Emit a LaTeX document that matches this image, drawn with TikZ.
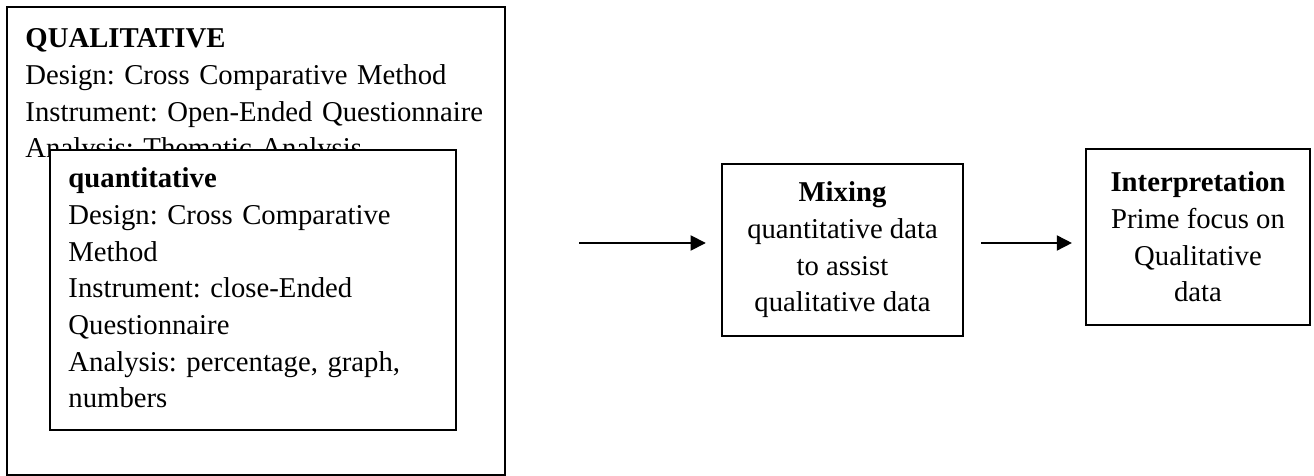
\documentclass[tikz,border=0pt]{standalone}
\usepackage{fontspec}
\setmainfont{Liberation Serif}
\frenchspacing
\usetikzlibrary{arrows.meta,positioning,fit}

\begin{document}
\begin{tikzpicture}[
    x=0.418pt, y=-0.418pt,
    box/.style={rectangle, draw=black, line width=1pt, inner sep=0pt},
    body/.style={font=\fontsize{12}{15.3}\selectfont, inner sep=0pt},
    arrow/.style={-{Triangle[length=6.3pt, width=6.3pt]}, line width=0.7pt}
]
\useasboundingbox (0,0) rectangle (1314,476);

% the two nested method boxes
\node[box, fit={(7,7) (505,475)}] (qual) {};
\node[body, text width=200pt, align=left, anchor=base west] (qualtext) at (25,48)
    {\textbf{QUALITATIVE}\\
     Design: Cross Comparative Method\\
     Instrument: Open-Ended Questionnaire\\
     Analysis: Thematic Analysis};
\node[box, fill=white, fit={(50,150) (456,430)}] (quant) {};
\node[body, text width=160pt, align=left, anchor=base west] (quanttext) at (68,188)
    {\textbf{quantitative}\\
     Design: Cross Comparative\\
     Method\\
     Instrument: close-Ended\\
     Questionnaire\\
     Analysis: percentage, graph,\\
     numbers};

% mixing and interpretation
\node[box, body, align=center, minimum width=100.7pt, minimum height=71.9pt] (mix) at (842.5,250)
    {\textbf{Mixing}\\quantitative data\\to assist\\qualitative data};
\node[box, body, align=center, minimum width=93.6pt, minimum height=73.6pt] (interp) at (1198,237)
    {\textbf{Interpretation}\\Prime focus on\\Qualitative\\data};

\coordinate (flow) at (0,243);
\draw[arrow, shorten <=30.5pt, shorten >=6.3pt] (qual.east |- flow) -- (mix.west |- flow);
\draw[arrow, shorten <=7.1pt, shorten >=5.4pt] (mix.east |- flow) -- (interp.west |- flow);
\end{tikzpicture}
\end{document}
